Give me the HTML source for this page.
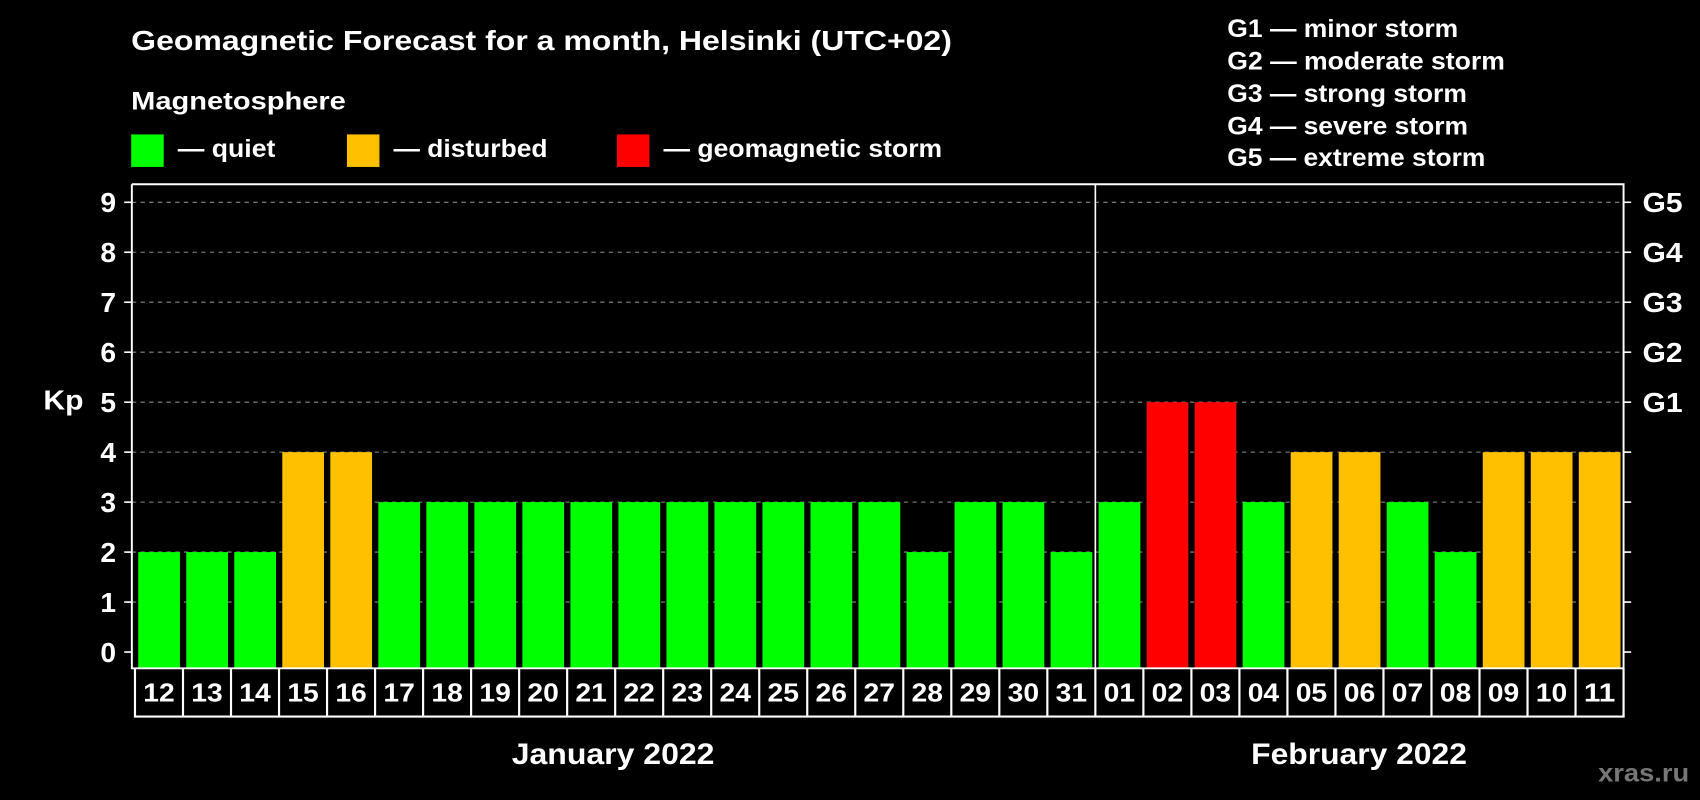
<!DOCTYPE html>
<html><head><meta charset="utf-8"><style>
html,body{margin:0;padding:0;background:#000;}
svg{display:block;}
text{font-family:"Liberation Sans",Arial,sans-serif;font-weight:bold;fill:#fff;}
</style></head><body>
<svg id="chart" width="1700" height="800" viewBox="0 0 1568 738" preserveAspectRatio="none" xmlns="http://www.w3.org/2000/svg">
<rect x="0" y="0" width="1568" height="738" fill="#000"/>
<text x="121" y="46" font-size="26" textLength="757" lengthAdjust="spacingAndGlyphs">Geomagnetic Forecast for a month, Helsinki (UTC+02)</text>
<text x="121" y="101" font-size="23" textLength="198" lengthAdjust="spacingAndGlyphs">Magnetosphere</text>
<g><rect x="121" y="124" width="30" height="30" fill="#00ff00"/><text x="164" y="145" font-size="23" textLength="90" lengthAdjust="spacingAndGlyphs">— quiet</text></g>
<g><rect x="320" y="124" width="30" height="30" fill="#ffc000"/><text x="363" y="145" font-size="23" textLength="142" lengthAdjust="spacingAndGlyphs">— disturbed</text></g>
<g><rect x="569" y="124" width="30" height="30" fill="#ff0000"/><text x="612" y="145" font-size="23" textLength="257" lengthAdjust="spacingAndGlyphs">— geomagnetic storm</text></g>
<g font-size="23">
<text x="1132" y="34" textLength="213" lengthAdjust="spacingAndGlyphs">G1 — minor storm</text>
<text x="1132" y="64" textLength="256" lengthAdjust="spacingAndGlyphs">G2 — moderate storm</text>
<text x="1132" y="94" textLength="221" lengthAdjust="spacingAndGlyphs">G3 — strong storm</text>
<text x="1132" y="124" textLength="222" lengthAdjust="spacingAndGlyphs">G4 — severe storm</text>
<text x="1132" y="153" textLength="238" lengthAdjust="spacingAndGlyphs">G5 — extreme storm</text>
</g>
<text x="40" y="378" font-size="26" textLength="37" lengthAdjust="spacingAndGlyphs">Kp</text>
<text x="472" y="705" font-size="27" textLength="187" lengthAdjust="spacingAndGlyphs">January 2022</text>
<text x="1154" y="705" font-size="27" textLength="199" lengthAdjust="spacingAndGlyphs">February 2022</text>
<text x="1474" y="721" font-size="23" textLength="84" lengthAdjust="spacingAndGlyphs" style="fill:#777">xras.ru</text>
<g id="plot"></g>
</svg>
<script>
const days = ["12","13","14","15","16","17","18","19","20","21","22","23","24","25","26","27","28","29","30","31","01","02","03","04","05","06","07","08","09","10","11"];
const kp = [2,2,2,4,4,3,3,3,3,3,3,3,3,3,3,3,2,3,3,2,3,5,5,3,4,4,3,2,4,4,4];
const yTicks = [0,1,2,3,4,5,6,7,8,9];
const gLabels = ["","","","","","G1","G2","G3","G4","G5"];
const monthSplit = 20;

const NS="http://www.w3.org/2000/svg";
const g=document.getElementById('plot');
const L=121.6,R=1497.5,T=170,B=616.5,slot0=124.5,pitch=(R-slot0)/days.length;
const y=v=>601.5-v*46.1;
const x=i=>slot0+i*pitch;
function mk(t,a){const e=document.createElementNS(NS,t);for(const k in a)e.setAttribute(k,a[k]);g.appendChild(e);return e;}
yTicks.forEach((v,i)=>{
  if(v>0){const gl=mk('line',{x1:L,x2:R,y1:y(v),y2:y(v),stroke:'#888','stroke-dasharray':'4,4','stroke-width':1});
  
  }
  const t1=mk('line',{x1:L-7,x2:L,y1:y(v),y2:y(v),stroke:'#fff','stroke-width':1.5});
  
  
  const t2=mk('line',{x1:R,x2:R+7,y1:y(v),y2:y(v),stroke:'#fff','stroke-width':1.5});
  
  
  const lb=mk('text',{x:107,y:y(v)+9,'font-size':26,'text-anchor':'end'});lb.textContent=v;
  
  
  if(gLabels[i]){const gt=mk('text',{x:1515,y:y(v)+9,'font-size':26,textLength:37,lengthAdjust:'spacingAndGlyphs'});gt.textContent=gLabels[i];
  
  }
});
kp.forEach((v,i)=>{
  const c=v>=5?'#ff0000':(v>=4?'#ffc000':'#00ff00');
  const b=mk('rect',{x:x(i)+3,y:y(v),width:pitch-5.8,height:B-y(v),fill:c});
  
  
  const d=mk('text',{x:x(i)+pitch/2-14.5,y:647,'font-size':24,textLength:29,lengthAdjust:'spacingAndGlyphs'});d.textContent=days[i];
  
  
  const s=mk('line',{x1:x(i),x2:x(i),y1:B,y2:661,stroke:'#fff','stroke-width':2});
  
  
});
const se=mk('line',{x1:R,x2:R,y1:B,y2:661,stroke:'#fff','stroke-width':2});


const bl=mk('line',{x1:slot0-1,x2:R+1,y1:661,y2:661,stroke:'#fff','stroke-width':2});


const fr=mk('path',{d:`M${L} ${T}L${L} ${B}L${R} ${B}L${R} ${T}L${L} ${T}`,fill:'none',stroke:'#fff','stroke-width':1.8});


const dv=mk('line',{x1:x(monthSplit),x2:x(monthSplit),y1:T,y2:B,stroke:'#fff','stroke-width':1.5});


</script>
</body></html>
